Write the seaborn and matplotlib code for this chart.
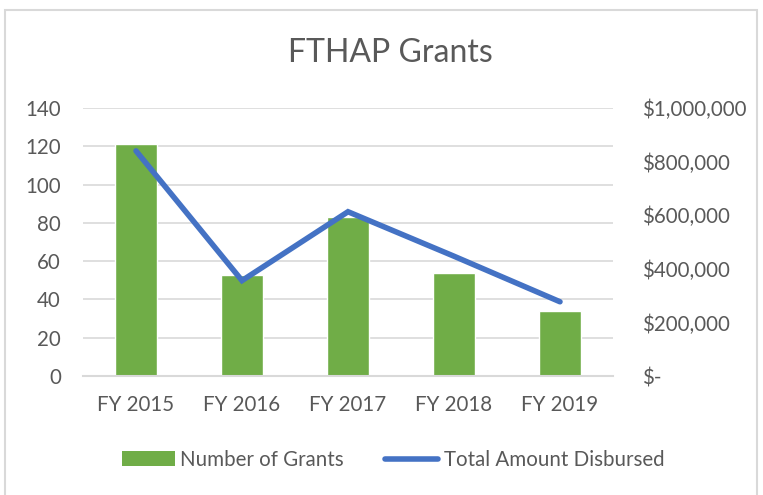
import numpy as np
import pandas as pd
import seaborn as sns
import matplotlib.pyplot as plt
from matplotlib.patches import Rectangle, Patch
from matplotlib.lines import Line2D

# values
years = ['FY 2015', 'FY 2016', 'FY 2017', 'FY 2018', 'FY 2019']
grants = [121, 53, 83, 54, 34]
amounts = [840000, 356000, 613000, 447000, 277000]
left_ticks = [0, 20, 40, 60, 80, 100, 120, 140]
right_ticks = [0, 200000, 400000, 600000, 800000, 1000000]
right_labels = ['$-', '$200,000', '$400,000', '$600,000', '$800,000', '$1,000,000']

df = pd.DataFrame({'year': years, 'grants': grants, 'amount': amounts})

sns.set_style('white')
plt.rcParams['font.family'] = ['Lato', 'DejaVu Sans']
txt = '#595959'
green = '#70AD47'
blue = '#4472C4'
fs = 14.8

fig = plt.figure(figsize=(7.63, 4.95), dpi=100)
ax = fig.add_axes([0.1088, 0.2404, 0.6946, 0.5414])

sns.barplot(data=df, x='year', y='grants', color=green, width=0.4,
            saturation=1, ax=ax, zorder=2)
ax.set_ylim(0, 140)
ax.set_yticks(left_ticks)
ax.yaxis.grid(True, color='#D9D9D9', linewidth=1.2, zorder=0)
ax.set_axisbelow(True)
ax.set_xlabel('')
ax.set_ylabel('')
for s in ['top', 'right', 'left']:
    ax.spines[s].set_visible(False)
ax.spines['bottom'].set_color('#D9D9D9')
ax.spines['bottom'].set_linewidth(1.5)
ax.tick_params(axis='both', length=0, labelsize=fs, labelcolor=txt)
ax.tick_params(axis='y', pad=16)
ax.tick_params(axis='x', pad=14)

ax2 = ax.twinx()
sns.lineplot(data=df, x='year', y='amount', color=blue, linewidth=4,
             ax=ax2, solid_capstyle='round', solid_joinstyle='miter')
ax2.set_ylim(0, 1000000)
ax2.set_yticks(right_ticks)
ax2.set_yticklabels(right_labels)
ax2.set_ylabel('')
ax2.set_xlabel('')
for s in ax2.spines.values():
    s.set_visible(False)
ax2.tick_params(axis='y', length=0, labelsize=fs, labelcolor=txt, pad=21)
ax.set_xlim(-0.5, len(years) - 0.5)

fig.text(0.511, 0.893, 'FTHAP Grants', ha='center', va='center',
         fontsize=23, color=txt)

handles = [Patch(facecolor=green, edgecolor='none'),
           Line2D([0], [0], color=blue, linewidth=4, solid_capstyle='round')]
fig.legend(handles, ['Number of Grants', 'Total Amount Disbursed'],
           loc='center', bbox_to_anchor=(0.515, 0.071), ncol=2, frameon=False,
           fontsize=fs, labelcolor=txt, handlelength=2.6, handletextpad=0.25,
           columnspacing=2.0)

fig.patches.append(Rectangle((0.0065, -0.02), 0.986, 1.0, transform=fig.transFigure,
                             fill=False, edgecolor='#D9D9D9', linewidth=1.5))

fig.savefig('out.png', dpi=100)
